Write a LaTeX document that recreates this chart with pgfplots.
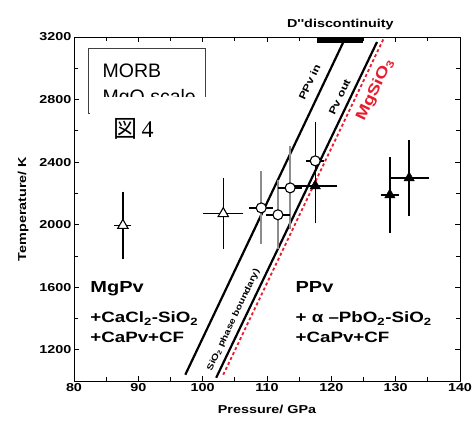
\documentclass[border=0pt]{standalone}
\usepackage{fontspec}
\setmainfont{Liberation Sans}
\newfontfamily\wide[FakeStretch=1.25]{Liberation Sans}
\newfontfamily\cjk{Noto Sans CJK JP}
\newfontfamily\serif{Liberation Serif}
\usepackage{pgfplots}
\pgfplotsset{compat=1.18}
\definecolor{ebgray}{gray}{0.55}
\definecolor{mgred}{RGB}{232,28,45}

\begin{document}
\begin{tikzpicture}
\begin{axis}[
  at={(74pt,40pt)}, anchor=south west,
  scale only axis, width=386pt, height=344pt,
  xmin=80, xmax=140, ymin=1000, ymax=3200,
  xtick={80,90,...,140}, ytick={1200,1600,...,3200},
  minor x tick num=1, minor y tick num=1,
  xtick pos=both, ytick pos=both,
  tick align=inside,
  major tick length=5pt, minor tick length=4pt,
  every tick/.style={black, line width=0.8pt},
  axis line style={line width=0.8pt},
  /pgf/number format/assume math mode=true,
  /pgf/number format/1000 sep={},
  ticklabel style={font=\wide\bfseries\fontsize{11.5}{13}\selectfont},
  xticklabel style={yshift=1pt},
  yticklabel style={xshift=1pt},
  xlabel={Pressure/ GPa}, ylabel={Temperature/ K},
  label style={font=\wide\bfseries\fontsize{11.5}{13}\selectfont},
  xlabel shift=7pt, ylabel shift=4pt,
  clip=false,
]
% phase boundaries
\addplot[black, line width=2.2pt] coordinates {(97.3,1040) (121.8,3162)};
\addplot[black, line width=2.2pt] coordinates {(102.1,1021) (127.1,3168)};
\addplot[mgred, line width=1.8pt, dash pattern=on 3pt off 2.5pt] coordinates {(103.2,1040) (128.1,3187)};

% circles: gray T error bars, black P error bars
\addplot[only marks, mark=none, ebgray, line width=2pt,
  error bars/.cd, y dir=both, y explicit,
  error bar style={ebgray, line width=2.2pt},
  error mark options={ebgray, mark size=4pt, line width=1.6pt}]
  coordinates {(109.1,2107) +- (0,208) (111.7,2063) +- (0,195) (113.6,2235) +- (0,240)};
\addplot[only marks, mark=none,
  error bars/.cd, y dir=both, y explicit,
  error bar style={black, line width=1.5pt},
  error mark options={black, mark size=4pt, line width=1.5pt}]
  coordinates {(117.5,2408) +- (0,225)};
\addplot[only marks, mark=*, mark size=5pt, mark options={fill=white, draw=black, line width=1.1pt},
  error bars/.cd, x dir=both, x explicit,
  error bar style={black, line width=1.5pt},
  error mark options={black, mark size=4pt, line width=1.5pt}]
  coordinates {(109.1,2107) +- (1.2,0) (111.7,2063) +- (1.2,0) (113.6,2235) +- (1.2,0) (117.5,2408) +- (0.8,0)};

% open triangles
\addplot[only marks, mark=triangle*, mark size=6pt, mark options={fill=white, draw=black, line width=1.1pt},
  error bars/.cd, x dir=both, x explicit, y dir=both, y explicit,
  error bar style={black, line width=1.5pt},
  error mark options={black, mark size=4pt, line width=1.5pt}]
  coordinates {(87.6,1995) +- (0.7,190) (103.2,2070) +- (2.5,200)};

% filled triangles
\addplot[only marks, mark=triangle*, mark size=6pt, mark options={fill=black, draw=black},
  error bars/.cd, x dir=both, x explicit, y dir=both, y explicit,
  error bar style={black, line width=1.5pt},
  error mark options={black, mark size=4pt, line width=1.5pt}]
  coordinates {(117.5,2248) +- (2.7,215) (129.1,2190) +- (0.8,215) (132.1,2299) +- (2.5,215)};

% D'' discontinuity
\fill[black] (axis cs:117.8,3200) rectangle (axis cs:124.9,3160);
\node[anchor=base, font=\wide\bfseries\fontsize{11.5}{13}\selectfont] at (axis cs:121.4,3200) [yshift=9pt] {D''discontinuity};

% MORB box (partly covered)
\draw[line width=0.7pt, black!75] (axis cs:82.95,2714) -- (axis cs:82.18,2714) -- (axis cs:82.18,3129.6) -- (axis cs:100.36,3129.6) -- (axis cs:100.36,2816);
\node[anchor=base west, font=\fontsize{19.5}{22}\selectfont] at (axis cs:83.9,2944) {MORB};
\node[anchor=base west, font=\fontsize{19.5}{22}\selectfont] at (axis cs:83.9,2775) {MgO scale};
\fill[white] (axis cs:82.5,2816) rectangle (axis cs:102,2640);
\node[anchor=base west] at (axis cs:85.6,2560) {\fontsize{24}{26}\selectfont\cjk 図\,\serif 4};

% phase labels
\node[anchor=base west, font=\wide\bfseries\fontsize{16}{18}\selectfont] at (axis cs:82.0,1563) {MgPv};
\node[anchor=base west, font=\wide\bfseries\fontsize{15}{18}\selectfont] at (axis cs:82.0,1371) {+CaCl\textsubscript{2}-SiO\textsubscript{2}};
\node[anchor=base west, font=\wide\bfseries\fontsize{15}{18}\selectfont] at (axis cs:82.0,1249) {+CaPv+CF};
\node[anchor=base west, font=\wide\bfseries\fontsize{16}{18}\selectfont] at (axis cs:113.9,1563) {PPv};
\node[anchor=base west, font=\wide\bfseries\fontsize{15}{18}\selectfont] at (axis cs:113.9,1371) {+ α –PbO\textsubscript{2}-SiO\textsubscript{2}};
\node[anchor=base west, font=\wide\bfseries\fontsize{15}{18}\selectfont] at (axis cs:113.9,1249) {+CaPv+CF};

% rotated labels
\node[rotate=64.6, font=\wide\bfseries\fontsize{10}{12}\selectfont] at (axis cs:116.6,2912) {PPv in};
\node[rotate=64.6, font=\wide\bfseries\fontsize{10}{12}\selectfont] at (axis cs:121.3,2816) {Pv out};
\node[rotate=64.6, text=mgred, font=\wide\bfseries\fontsize{15}{18}\selectfont] at (axis cs:126.8,2861) {MgSiO\textsubscript{3}};
\node[rotate=64.6, font=\wide\bfseries\fontsize{8.5}{10}\selectfont] at (axis cs:104.8,1390) {SiO\textsubscript{2} phase boundary)};
\end{axis}
\pgfresetboundingbox
\path[use as bounding box] (0,0) rectangle (473pt,421pt);
\end{tikzpicture}
\end{document}
